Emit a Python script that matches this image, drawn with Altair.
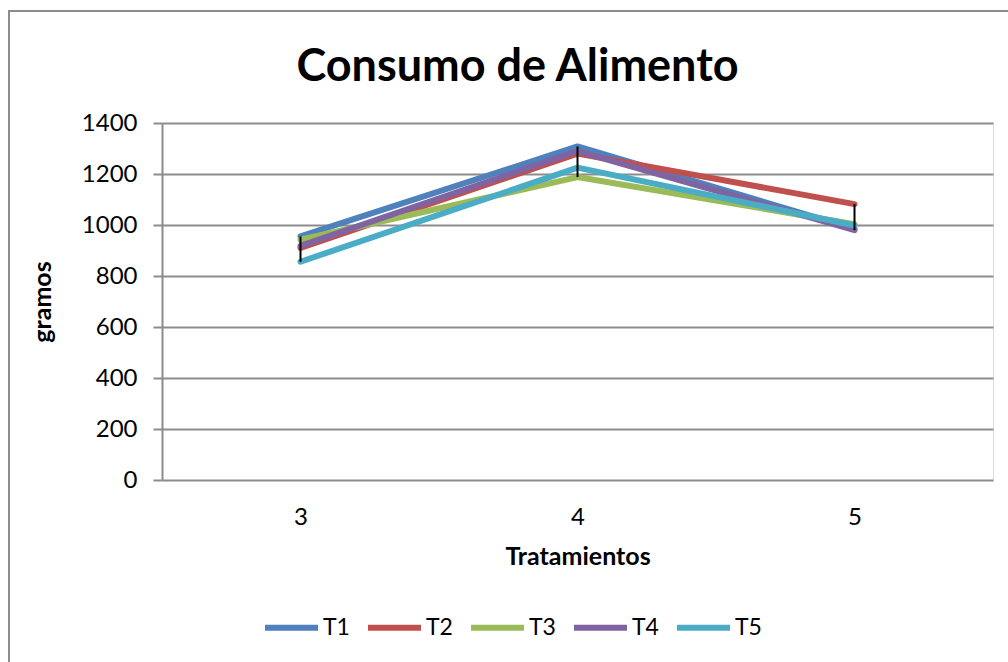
import altair as alt
import pandas as pd

tratamientos = [3, 4, 5]
series_names = ["T1", "T2", "T3", "T4", "T5"]
T1 = [955, 1308, 985]
T2 = [910, 1280, 1082]
T3 = [942, 1188, 1003]
T4 = [918, 1290, 980]
T5 = [856, 1225, 998]
colors = ["#4F81BD", "#C0504D", "#9BBB59", "#8064A2", "#4BACC6"]
y_ticks = [0, 200, 400, 600, 800, 1000, 1200, 1400]

rows = []
for i, (name, vals) in enumerate(zip(series_names, [T1, T2, T3, T4, T5])):
    for x, v in zip(tratamientos, vals):
        rows.append({"Tratamientos": x, "serie": name, "gramos": v, "orden": i})
df = pd.DataFrame(rows)

FONT = "Lato"
W, H = 831, 357

xscale = alt.Scale(type="point", padding=0.5)
yscale = alt.Scale(domain=[0, 1400], nice=False)

base = alt.Chart(df)

lines = base.mark_line(strokeWidth=6, strokeCap="round", strokeJoin="round").encode(
    x=alt.X("Tratamientos:O", scale=xscale,
            axis=alt.Axis(title="Tratamientos", labelAngle=0, ticks=False, tickSize=0,
                          labelPadding=25, titlePadding=15, domain=False, grid=False,
                          labelFontSize=24, titleFontSize=25, titleFontWeight="bold",
                          labelFont=FONT, titleFont=FONT, labelColor="#000", titleColor="#000")),
    y=alt.Y("gramos:Q", scale=yscale,
            axis=alt.Axis(title="gramos", values=y_ticks, format="d", tickSize=9,
                          tickColor="#8c8c8c", tickWidth=2, labelPadding=16, titlePadding=26,
                          domainColor="#8c8c8c", domainWidth=2,
                          gridColor="#8c8c8c", gridWidth=2,
                          labelFontSize=24, titleFontSize=25, titleFontWeight="bold",
                          labelFont=FONT, titleFont=FONT, labelColor="#000", titleColor="#000")),
    color=alt.Color("serie:N", scale=alt.Scale(domain=series_names, range=colors),
                    legend=alt.Legend(title=None, orient="none", legendX=100, legendY=475,
                                      direction="horizontal", columns=5,
                                      symbolType="stroke", symbolSize=2809, symbolStrokeWidth=6,
                                      labelFontSize=23, labelFont=FONT, labelColor="#000",
                                      labelOffset=2, columnPadding=6)),
    order=alt.Order("orden:Q"),
)

hilo = base.mark_rule(color="black", strokeWidth=2).encode(
    x=alt.X("Tratamientos:O", scale=xscale),
    y=alt.Y("min(gramos):Q", scale=yscale),
    y2="max(gramos):Q",
)

frame = alt.Chart(alt.Data(values=[{"a": 1}])).mark_rect(
    fill=None, stroke="#8c8c8c", strokeWidth=2
).encode(
    x=alt.value(-153), x2=alt.value(870), y=alt.value(-112), y2=alt.value(560)
)

chart = alt.layer(frame, lines, hilo).properties(
    width=W, height=H,
    title=alt.Title("Consumo de Alimento", font=FONT, fontSize=45, fontWeight="bold",
                    color="#000", anchor="middle", frame="group", baseline="alphabetic",
                    offset=-116, dx=-60),
    autosize=alt.AutoSizeParams(type="none"),
    padding={"left": 162, "top": 123, "right": 15, "bottom": 182},
).configure_view(stroke=None).configure(background="white")

chart.save("out.html", embed_options={"renderer": "svg", "actions": False})
